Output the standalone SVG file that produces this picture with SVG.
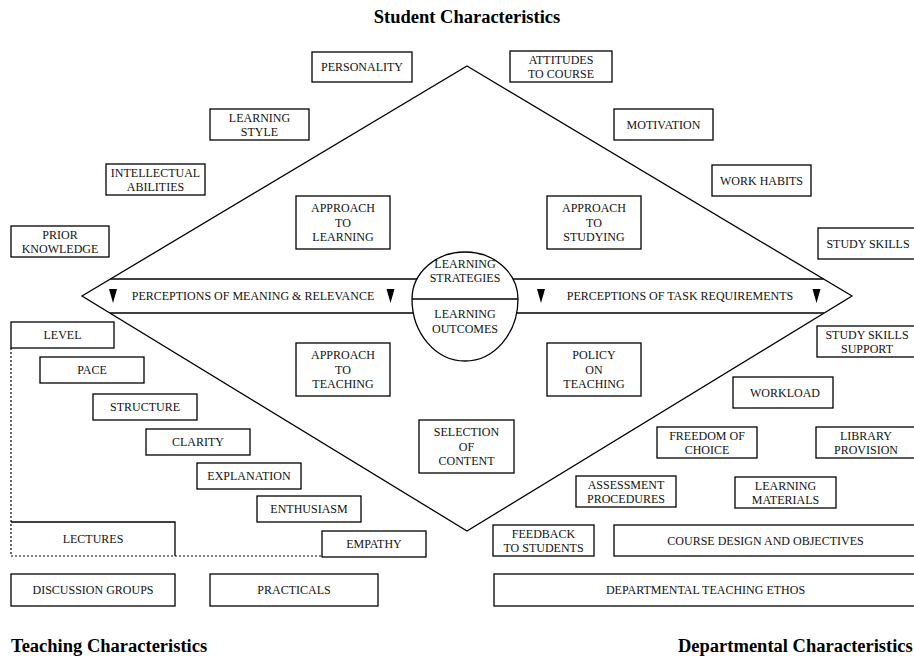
<svg xmlns="http://www.w3.org/2000/svg" width="914" height="656" viewBox="0 0 914 656">
<style>
.box{fill:#fff;stroke:#000;stroke-width:1.3}
.t{font-family:"Liberation Serif","Times New Roman",serif;font-size:12px;text-anchor:middle;fill:#111}
.title{font-family:"Liberation Serif","Times New Roman",serif;font-size:18.5px;font-weight:bold;fill:#000}
.edge{fill:none;stroke:#000;stroke-width:1.3}
.band{fill:none;stroke:#000;stroke-width:1.7}
.dot{fill:none;stroke:#000;stroke-width:1.2;stroke-dasharray:2 2}
</style>
<defs>
<path id="tri" d="M-4,0 H4 L0,14 Z" fill="#000"/>
</defs>
<rect width="914" height="656" fill="#fff"/>

<text class="title" x="467" y="22.5" text-anchor="middle">Student Characteristics</text>
<text class="title" x="11" y="652">Teaching Characteristics</text>
<text class="title" x="678" y="652">Departmental Characteristics</text>

<g id="connectors">
<polygon class="edge" points="467,66 852,296 467,531 82,296"/>
<line class="band" x1="110.5" y1="279" x2="823.5" y2="279"/>
<line class="band" x1="110" y1="313" x2="824" y2="313"/>
<path class="dot" d="M11,348 V556 H322"/>
<use href="#tri" x="113" y="289"/>
<use href="#tri" x="390.5" y="289"/>
<use href="#tri" x="541" y="289"/>
<use href="#tri" x="816.5" y="289"/>
<text class="t" x="253" y="300.2">PERCEPTIONS OF MEANING &amp; RELEVANCE</text>
<text class="t" x="680" y="300.2">PERCEPTIONS OF TASK REQUIREMENTS</text>
</g>

<g id="learning-core">
<path d="M412,299 A53,47 0 0 1 518,299 A53,62 0 0 1 412,299 Z" fill="#fff" stroke="#000" stroke-width="1.3"/>
<line x1="412" y1="299" x2="518" y2="299" stroke="#000" stroke-width="1.3"/>
<text class="t" x="465" y="268.2">LEARNING</text>
<text class="t" x="465" y="282.2">STRATEGIES</text>
<text class="t" x="465" y="318.2">LEARNING</text>
<text class="t" x="465" y="333.2">OUTCOMES</text>
</g>

<g id="personality"><rect class="box" x="312" y="52" width="100" height="30"/><text class="t" x="362" y="71.2">PERSONALITY</text></g>
<g id="learning-style"><rect class="box" x="210" y="109" width="99" height="31"/><text class="t" x="259.5" y="121.5">LEARNING</text><text class="t" x="259.5" y="136">STYLE</text></g>
<g id="intellectual-abilities"><rect class="box" x="106" y="164" width="99" height="31"/><text class="t" x="155.5" y="176.5">INTELLECTUAL</text><text class="t" x="155.5" y="191">ABILITIES</text></g>
<g id="prior-knowledge"><rect class="box" x="11" y="226" width="98" height="31"/><text class="t" x="60" y="238.5">PRIOR</text><text class="t" x="60" y="253">KNOWLEDGE</text></g>
<g id="attitudes"><rect class="box" x="510" y="51" width="102" height="31"/><text class="t" x="561" y="63.5">ATTITUDES</text><text class="t" x="561" y="78">TO COURSE</text></g>
<g id="motivation"><rect class="box" x="614" y="109" width="99" height="31"/><text class="t" x="663.5" y="128.7">MOTIVATION</text></g>
<g id="work-habits"><rect class="box" x="712" y="165" width="99" height="31"/><text class="t" x="761.5" y="184.7">WORK HABITS</text></g>
<g id="study-skills"><rect class="box" x="818" y="228" width="100" height="31"/><text class="t" x="868" y="247.7">STUDY SKILLS</text></g>
<g id="approach-learning"><rect class="box" x="296" y="196" width="94" height="53"/><text class="t" x="343" y="212.2">APPROACH</text><text class="t" x="343" y="226.7">TO</text><text class="t" x="343" y="241.2">LEARNING</text></g>
<g id="approach-studying"><rect class="box" x="547" y="196" width="94" height="53"/><text class="t" x="594" y="212.2">APPROACH</text><text class="t" x="594" y="226.7">TO</text><text class="t" x="594" y="241.2">STUDYING</text></g>

<g id="level"><rect class="box" x="11" y="322" width="103" height="26"/><text class="t" x="62.5" y="339.2">LEVEL</text></g>
<g id="pace"><rect class="box" x="40" y="357" width="104" height="26"/><text class="t" x="92" y="374.2">PACE</text></g>
<g id="structure"><rect class="box" x="93" y="394" width="104" height="26"/><text class="t" x="145" y="411.2">STRUCTURE</text></g>
<g id="clarity"><rect class="box" x="146" y="429" width="104" height="26"/><text class="t" x="198" y="446.2">CLARITY</text></g>
<g id="explanation"><rect class="box" x="197" y="463" width="104" height="26"/><text class="t" x="249" y="480.2">EXPLANATION</text></g>
<g id="enthusiasm"><rect class="box" x="257" y="496" width="104" height="26"/><text class="t" x="309" y="513.2">ENTHUSIASM</text></g>
<g id="empathy"><rect class="box" x="322" y="531" width="104" height="26"/><text class="t" x="374" y="548.2">EMPATHY</text></g>
<g id="lectures"><path class="edge" d="M11,522 H175 V556"/><text class="t" x="93" y="543.2">LECTURES</text></g>
<g id="discussion-groups"><rect class="box" x="11" y="574" width="164" height="32"/><text class="t" x="93" y="594.2">DISCUSSION GROUPS</text></g>
<g id="practicals"><rect class="box" x="210" y="574" width="168" height="32"/><text class="t" x="294" y="594.2">PRACTICALS</text></g>
<g id="approach-teaching"><rect class="box" x="296" y="343" width="94" height="53"/><text class="t" x="343" y="359.2">APPROACH</text><text class="t" x="343" y="373.7">TO</text><text class="t" x="343" y="388.2">TEACHING</text></g>
<g id="selection-content"><rect class="box" x="419" y="420" width="95" height="53"/><text class="t" x="466.5" y="436.2">SELECTION</text><text class="t" x="466.5" y="450.7">OF</text><text class="t" x="466.5" y="465.2">CONTENT</text></g>

<g id="policy-teaching"><rect class="box" x="547" y="343" width="94" height="53"/><text class="t" x="594" y="359.2">POLICY</text><text class="t" x="594" y="373.7">ON</text><text class="t" x="594" y="388.2">TEACHING</text></g>
<g id="study-skills-support"><rect class="box" x="817" y="326" width="100" height="31"/><text class="t" x="867" y="338.5">STUDY SKILLS</text><text class="t" x="867" y="353">SUPPORT</text></g>
<g id="workload"><rect class="box" x="733" y="377" width="100" height="31"/><text class="t" x="785" y="396.7">WORKLOAD</text></g>
<g id="freedom-choice"><rect class="box" x="657" y="427" width="100" height="31"/><text class="t" x="707" y="439.5">FREEDOM OF</text><text class="t" x="707" y="454">CHOICE</text></g>
<g id="library-provision"><rect class="box" x="816" y="427" width="100" height="31"/><text class="t" x="866" y="439.5">LIBRARY</text><text class="t" x="866" y="454">PROVISION</text></g>
<g id="assessment-procedures"><rect class="box" x="576" y="476" width="100" height="31"/><text class="t" x="626" y="488.5">ASSESSMENT</text><text class="t" x="626" y="503">PROCEDURES</text></g>
<g id="learning-materials"><rect class="box" x="735" y="477" width="101" height="31"/><text class="t" x="785.5" y="489.5">LEARNING</text><text class="t" x="785.5" y="504">MATERIALS</text></g>
<g id="feedback-students"><rect class="box" x="493" y="525" width="101" height="31"/><text class="t" x="543.5" y="537.5">FEEDBACK</text><text class="t" x="543.5" y="552">TO STUDENTS</text></g>
<g id="course-design"><rect class="box" x="614" y="525" width="303" height="31"/><text class="t" x="765.5" y="544.7">COURSE DESIGN AND OBJECTIVES</text></g>
<g id="departmental-ethos"><rect class="box" x="494" y="574" width="423" height="32"/><text class="t" x="705.5" y="594.2">DEPARTMENTAL TEACHING ETHOS</text></g>
</svg>
